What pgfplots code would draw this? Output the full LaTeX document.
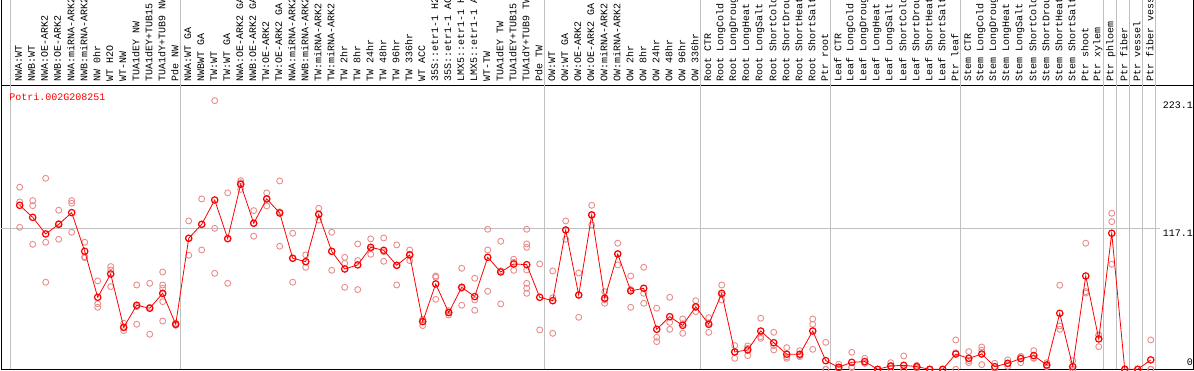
\documentclass[border=0pt]{standalone}
\usepackage{pgfplots}
\pgfplotsset{compat=1.18}
\usepackage{pgfplotstable}
\usepackage{fontspec}
\setmainfont{Liberation Mono}
\definecolor{rep}{RGB}{232,140,140}
\definecolor{gridg}{RGB}{192,192,192}

\pgfplotstableread{
x y
0 151.2
0 139.0
0 117.9
1 140.1
1 135.9
1 103.8
2 158.6
2 105.5
2 72.3
3 132.1
3 108.0
3 121.0
4 140.1
4 137.9
4 113.8
5 105.5
5 93.6
5 92.7
6 73.4
6 51.5
6 54.5
7 85.3
7 82.5
7 68.7
8 38.2
8 32.1
8 34.4
9 70.0
9 37.4
9 52.0
10 71.4
10 29.1
10 51.5
11 80.8
11 70.0
11 67.3
11 62.6
11 56.2
11 40.1
12 36.5
12 37.4
12 38.3
13 123.2
13 94.7
13 108.8
14 141.5
14 99.1
14 120.4
15 223.1
15 117.1
15 79.7
16 146.5
16 71.4
16 108.5
17 156.7
17 155.0
17 149.4
18 131.8
18 110.5
18 121.3
19 146.5
19 135.7
19 141.5
20 156.4
20 102.2
20 130.8
21 113.0
21 72.3
21 92.2
22 95.0
22 84.7
22 89.4
23 133.7
23 124.0
23 128.5
24 113.8
24 82.2
24 98.0
25 93.0
25 88.0
25 68.1
26 104.1
26 90.3
26 66.2
27 108.3
27 95.5
27 100.0
28 109.1
28 89.7
28 97.6
29 103.3
29 70.0
29 86.0
30 99.1
30 90.3
30 95.6
31 41.0
31 36.3
31 41.5
32 77.5
32 76.4
32 58.1
33 48.7
33 45.1
33 47.4
34 83.9
34 53.2
34 67.2
35 75.6
35 57.6
35 49.0
36 116.3
36 99.1
36 64.8
37 106.3
37 54.3
37 81.8
38 91.4
38 82.2
38 88.9
39 116.3
39 104.1
39 101.3
39 82.5
39 71.4
39 67.3
39 63.1
40 87.5
40 32.7
41 81.7
41 29.9
41 59.4
42 123.2
42 108.0
42 115.7
43 80.0
43 43.2
43 61.7
44 136.2
44 119.9
44 128.5
45 64.5
45 54.8
45 57.7
46 104.7
46 86.7
46 96.0
47 77.5
47 51.5
47 66.3
48 84.7
48 63.1
48 54.8
49 50.7
49 26.6
49 23.0
50 59.8
50 39.0
50 33.2
51 41.8
51 29.9
51 37.8
52 57.0
52 47.9
52 51.2
53 42.9
53 30.7
53 38.5
54 70.0
54 57.6
54 61.8
55 19.7
55 9.1
55 14.4
56 19.4
56 11.4
56 17.4
57 42.4
57 27.1
57 25.7
58 30.7
58 16.1
58 19.6
59 18.0
59 9.1
59 10.4
60 15.5
60 10.5
60 11.4
61 41.8
61 37.4
61 16.6
62 22.4
62 0
62 0
63 4.2
63 0
63 0.9
64 14.1
64 1.4
64 1.9
65 9.1
65 5.0
65 5.0
66 0
66 0
66 0
67 5.5
67 0.5
67 2.4
68 11.1
68 0
68 0
69 3.3
69 1.1
69 2.2
70 0
70 0
70 0
71 0
71 0
71 0
72 24.4
72 13.7
72 0
73 14.7
73 5.5
73 7.2
74 18.5
74 3.9
74 15.8
75 5.0
75 1.1
75 0.6
76 7.8
76 2.5
76 4.6
77 10.5
77 5.5
77 10.6
78 15.5
78 9.1
78 9.5
79 5.5
79 2.2
79 3.0
80 69.8
80 36.0
80 33.2
81 7.2
81 0
81 0
82 104.7
82 64.5
82 63.3
83 28.5
83 18.8
83 28.3
84 129.6
84 122.6
84 87.2
85 0
85 0
85 0
86 0
86 0
86 0
87 24.4
87 0
87 0
}\reps

\pgfplotstableread{
x y
0 136.2
1 126.2
2 112.4
3 120.4
4 130.1
5 98.0
6 59.8
7 79.2
8 34.9
9 53.2
10 50.7
11 63.1
12 37.4
13 108.8
14 120.4
15 140.6
16 108.5
17 153.7
18 121.3
19 141.5
20 129.8
21 92.2
22 89.4
23 128.7
24 98.0
25 83.3
26 86.7
27 101.3
28 98.8
29 86.4
30 95.0
31 39.6
32 70.9
33 47.1
34 68.1
35 60.4
36 93.0
37 80.8
38 87.5
39 86.9
40 59.8
41 57.0
42 115.7
43 61.7
44 128.2
45 59.0
46 95.8
47 65.1
48 67.3
49 33.2
50 43.7
51 36.5
52 52.0
53 37.4
54 63.1
55 14.4
56 16.1
57 31.8
58 22.1
59 12.5
60 12.5
61 31.8
62 7.2
63 1.7
64 5.8
65 6.4
66 0
67 2.8
68 3.3
69 2.2
70 0
71 0
72 12.7
73 9.1
74 12.7
75 2.2
76 5.0
77 8.9
78 11.4
79 3.6
80 46.5
81 2.2
82 77.5
83 25.2
84 113.0
85 0
86 0
87 7.8
}\means

\begin{document}
\begin{tikzpicture}
\path[use as bounding box] (0,0) rectangle (1194pt,370pt);
\begin{axis}[
  at={(1.3pt,0.7pt)}, anchor=south west,
  scale only axis, width=1191.7pt, height=284.3pt,
  xmin=-1.4154, xmax=90.254, ymin=0, ymax=236.1,
  clip mode=individual,
  axis line style={line width=0.9pt, black},
  major tick length=0pt,
  xtick={0,...,87},
  xticklabels={%
NWA:WT,NWB:WT,NWA:OE-ARK2,NWB:OE-ARK2,NWA:miRNA-ARK2,NWB:miRNA-ARK2,NW 0hr,WT H2O,WT-NW,TUA1dEY NW,TUA1dEY+TUB15,TUA1dY+TUB9 NW,Pde NW,%
NWA:WT GA,NWBWT GA,TW:WT,TW:WT GA,NWA:OE-ARK2 GA,NWB:OE-ARK2 GA,TW:OE-ARK2,TW:OE-ARK2 GA,NWA:miRNA-ARK2,NWB:miRNA-ARK2,TW:miRNA-ARK2,TW:miRNA-ARK2,%
TW 2hr,TW 8hr,TW 24hr,TW 48hr,TW 96hr,TW 336hr,WT ACC,35S::etr1-1 H2,35S::etr1-1 AC,LMX5::etr1-1 H,LMX5::etr1-1 A,WT-TW,TUA1dEY TW,TUA1dEY+TUB15,TUA1dY+TUB9 TW,Pde TW,%
OW:WT,OW:WT GA,OW:OE-ARK2,OW:OE-ARK2 GA,OW:miRNA-ARK2,OW:miRNA-ARK2,OW 2hr,OW 8hr,OW 24hr,OW 48hr,OW 96hr,OW 336hr,%
Root CTR,Root LongCold,Root LongDroug,Root LongHeat,Root LongSalt,Root ShortCold,Root ShortDrou,Root ShortHeat,Root ShortSalt,Ptr root,%
Leaf CTR,Leaf LongCold,Leaf LongDroug,Leaf LongHeat,Leaf LongSalt,Leaf ShortCold,Leaf ShortDrou,Leaf ShortHeat,Leaf ShortSalt,Ptr leaf,%
Stem CTR,Stem LongCold,Stem LongDroug,Stem LongHeat,Stem LongSalt,Stem ShortCold,Stem ShortDrou,Stem ShortHeat,Stem ShortSalt,Ptr shoot,%
Ptr xylem,Ptr phloem,Ptr fiber,Ptr vessel,Ptr fiber vess},
  xticklabel pos=right,
  xticklabel style={font=\fontsize{10}{12}\selectfont, inner sep=0pt, yshift=3pt, xshift=-1pt, rotate=90, anchor=west},
  ytick={117.1,223.1}, yticklabels={117.1,223.1},
  yticklabel pos=right,
  yticklabel style={font=\fontsize{10}{12}\selectfont, inner sep=0pt, anchor=east, yshift=-5pt},
  extra y ticks={0}, extra y tick labels={0},
  extra y tick style={yticklabel style={yshift=12pt}},
]
\pgfplotsinvokeforeach{-0.69,12.33,40.33,52.33,62.33,72.37,83.33,84.35,85.33,86.33,87.37}{
  \draw[gridg, line width=0.9pt] (axis cs:#1,0) -- ([yshift=86pt]axis cs:#1,236.1);
}
\draw[gridg, line width=0.9pt] (axis cs:-1.4154,117.1) -- (axis cs:87.7,117.1);
\draw[black, line width=0.9pt] (rel axis cs:0,1) -- ([yshift=86pt]rel axis cs:0,1);
\draw[black, line width=0.9pt] (rel axis cs:1,1) -- ([yshift=86pt]rel axis cs:1,1);

\addplot[only marks, mark=o, mark size=3pt, mark options={draw=rep, line width=0.9pt}] table[x=x,y=y]{\reps};
\addplot[red, line width=0.8pt, mark=o, mark size=3.2pt, mark options={line width=1.2pt, solid, draw=red}] table[x=x,y=y]{\means};

\node[xshift=8pt, yshift=-11.7pt, anchor=west, text=red, inner sep=0pt, font=\fontsize{10}{12}\selectfont] at (rel axis cs:0,1) {Potri.002G208251};
\end{axis}
\end{tikzpicture}
\end{document}
